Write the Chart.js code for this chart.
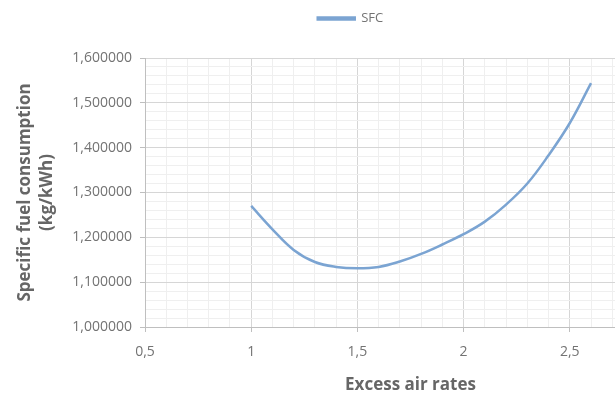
<!DOCTYPE html>
<html>
<head>
<meta charset="utf-8">
<script src="https://cdn.jsdelivr.net/npm/chart.js@4/dist/chart.umd.min.js"></script>
<style>
  html, body { margin: 0; padding: 0; background: #fff; }
  /* the reference plot runs past the right edge, so the canvas is wider and clipped */
  #clip { width: 615px; height: 398px; overflow: hidden; position: relative; }
  #wrap { width: 688px; height: 398px; position: relative; }
</style>
</head>
<body>
<div id="clip"><div id="wrap"><canvas id="sfcChart"></canvas></div></div>
<script>
// Values
const excessAir = [1.0, 1.1, 1.2, 1.3, 1.4, 1.5, 1.6, 1.7, 1.8, 1.9, 2.0, 2.1, 2.2, 2.3, 2.4, 2.5, 2.6];
const sfc = [1.270, 1.218, 1.172, 1.145, 1.134, 1.131, 1.134, 1.146, 1.163, 1.184, 1.207, 1.235, 1.273, 1.320, 1.383, 1.455, 1.544];
const xMajorTicks = [0.5, 1, 1.5, 2, 2.5, 3];
const yMajorTicks = [1.0, 1.1, 1.2, 1.3, 1.4, 1.5, 1.6];

const isMajor = (v, list) => list.some(m => Math.abs(m - v) < 1e-6);
const comma = s => s.replace('.', ',');

const textGray = '#737373';
const fontFamily = '"Open Sans", "Liberation Sans", sans-serif';

// extra room under the legend
const legendGap = {
    id: 'legendGap',
    beforeInit(chart) {
        const fit = chart.legend.fit;
        chart.legend.fit = function () {
            fit.call(this);
            this.height += 23;
        };
    }
};

document.addEventListener('DOMContentLoaded', function () {
    const ctx = document.getElementById('sfcChart');

    new Chart(ctx, {
        type: 'line',
        data: {
            datasets: [{
                label: 'SFC',
                data: excessAir.map((x, i) => ({ x: x, y: sfc[i] })),
                borderColor: '#7ba4d2',
                backgroundColor: '#7ba4d2',
                borderWidth: 2.5,
                tension: 0.4,
                pointRadius: 0,
                fill: false
            }]
        },
        plugins: [legendGap],
        options: {
            responsive: true,
            maintainAspectRatio: false,
            animation: false,
            layout: { padding: { left: 14, right: 1, top: 2, bottom: 0 } },
            plugins: {
                tooltip: { enabled: false },
                legend: {
                    display: true,
                    position: 'top',
                    labels: {
                        boxWidth: 37,
                        boxHeight: 2,
                        padding: 10,
                        color: textGray,
                        font: { family: fontFamily, size: 13 }
                    }
                }
            },
            scales: {
                x: {
                    type: 'linear',
                    min: 0.5,
                    max: 3.0,
                    afterFit: scale => { scale.height = 71; },
                    border: { color: '#bfbfbf', width: 1 },
                    grid: {
                        color: c => c.tick && isMajor(c.tick.value, xMajorTicks) ? '#d6d6d6' : '#efefef',
                        tickColor: c => c.tick && isMajor(c.tick.value, xMajorTicks) ? '#bfbfbf' : 'rgba(0,0,0,0)',
                        tickLength: 5
                    },
                    ticks: {
                        stepSize: 0.1,
                        autoSkip: false,
                        maxRotation: 0,
                        padding: 12,
                        color: textGray,
                        font: { family: fontFamily, size: 14 },
                        callback: v => (isMajor(v, xMajorTicks) && v < 2.9) ? comma(String(Math.round(v * 10) / 10)) : ''
                    },
                    title: {
                        display: true,
                        text: 'Excess air rates',
                        color: '#666666',
                        font: { family: fontFamily, size: 17, weight: 'bold' },
                        padding: { top: 0, bottom: 3 }
                    }
                },
                y: {
                    type: 'linear',
                    min: 1.0,
                    max: 1.6,
                    afterFit: scale => { scale.width = 131; },
                    border: { color: '#bfbfbf', width: 1 },
                    grid: {
                        color: c => c.tick && isMajor(c.tick.value, yMajorTicks) ? '#d6d6d6' : '#efefef',
                        tickColor: c => c.tick && isMajor(c.tick.value, yMajorTicks) ? '#bfbfbf' : 'rgba(0,0,0,0)',
                        tickLength: 5
                    },
                    ticks: {
                        stepSize: 0.02,
                        autoSkip: false,
                        padding: 8,
                        color: textGray,
                        font: { family: fontFamily, size: 14 },
                        callback: v => isMajor(v, yMajorTicks) ? comma(v.toFixed(6)) : ''
                    },
                    title: {
                        display: true,
                        text: ['Specific fuel consumption', '(kg/kWh)'],
                        color: '#666666',
                        font: { family: fontFamily, size: 17, weight: 'bold', lineHeight: 1.3 },
                        padding: { top: 0, bottom: 0 }
                    }
                }
            }
        }
    });
});
</script>
</body>
</html>
